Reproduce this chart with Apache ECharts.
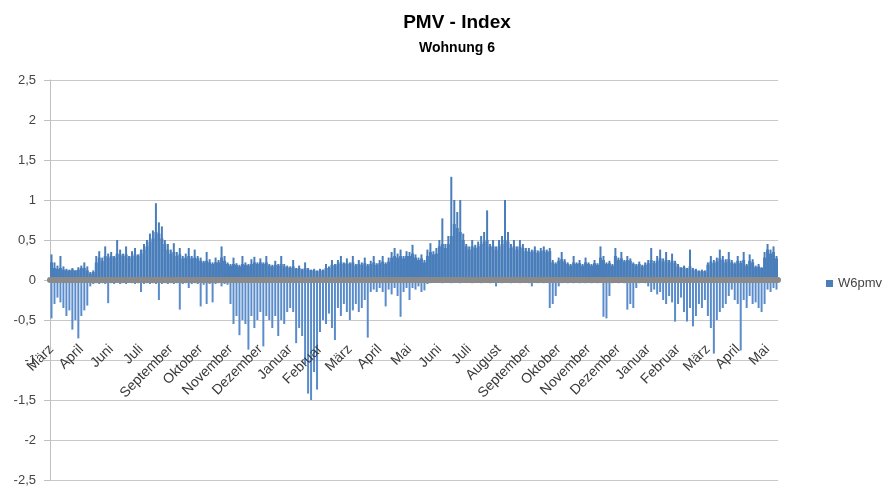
<!DOCTYPE html>
<html>
<head>
<meta charset="utf-8">
<script src="https://cdn.jsdelivr.net/npm/echarts@6/dist/echarts.min.js"></script>
<style>
html,body{margin:0;padding:0;background:#fff;}
#chart{width:892px;height:488px;}
</style>
</head>
<body>
<div id="chart"></div>
<script>
// Month tick labels (one every labelStep slots)
const months = ['März','April','Juni','Juli','September','Oktober','November','Dezember','Januar','Februar','März','April','Mai','Juni','Juli','August','September','Oktober','November','Dezember','Januar','Februar','März','April','Mai'];
const labelStep = 10;

// Dense (typical) positive PMV level per time slot
const pmvBase = [
0.22,0.15,0.14,0.15,0.13,0.12,0.12,0.13,0.12,0.13,
0.15,0.15,0.12,0.08,0.10,0.22,0.28,0.24,0.30,0.28,
0.30,0.28,0.33,0.32,0.30,0.32,0.28,0.30,0.32,0.30,
0.33,0.38,0.42,0.48,0.52,0.60,0.58,0.52,0.45,0.38,
0.33,0.35,0.30,0.32,0.27,0.28,0.30,0.27,0.28,0.27,
0.24,0.22,0.24,0.22,0.20,0.22,0.22,0.28,0.24,0.20,
0.18,0.20,0.19,0.17,0.20,0.19,0.18,0.20,0.22,0.20,
0.22,0.20,0.22,0.18,0.17,0.19,0.18,0.20,0.17,0.16,
0.15,0.17,0.14,0.15,0.13,0.15,0.13,0.12,0.12,0.11,
0.12,0.12,0.15,0.15,0.19,0.18,0.20,0.22,0.20,0.21,
0.20,0.22,0.18,0.20,0.19,0.21,0.18,0.20,0.22,0.19,
0.21,0.23,0.20,0.23,0.28,0.30,0.28,0.30,0.27,0.30,
0.30,0.33,0.28,0.25,0.27,0.22,0.30,0.35,0.32,0.33,
0.42,0.45,0.40,0.45,0.55,0.70,0.65,0.60,0.50,0.42,
0.38,0.42,0.40,0.42,0.45,0.48,0.50,0.42,0.42,0.38,
0.42,0.45,0.50,0.48,0.40,0.42,0.38,0.42,0.40,0.36,
0.36,0.35,0.37,0.34,0.36,0.37,0.35,0.36,0.22,0.20,
0.24,0.26,0.23,0.20,0.18,0.22,0.20,0.21,0.18,0.22,
0.20,0.18,0.21,0.19,0.28,0.25,0.20,0.21,0.18,0.30,
0.25,0.27,0.23,0.25,0.24,0.20,0.18,0.20,0.17,0.19,
0.21,0.25,0.21,0.24,0.27,0.23,0.25,0.22,0.24,0.21,
0.17,0.15,0.16,0.14,0.17,0.13,0.12,0.11,0.11,0.11,
0.19,0.23,0.21,0.23,0.27,0.25,0.22,0.26,0.22,0.20,
0.24,0.21,0.25,0.18,0.24,0.22,0.16,0.17,0.15,0.28,
0.38,0.33,0.35,0.27
];

// Positive PMV peaks per time slot
const pmvHigh = [
0.32,0.22,0.18,0.30,0.17,0.14,0.13,0.15,0.12,0.16,
0.18,0.22,0.17,0.10,0.12,0.30,0.36,0.28,0.42,0.33,
0.35,0.30,0.50,0.38,0.33,0.42,0.30,0.36,0.40,0.32,
0.38,0.45,0.50,0.58,0.62,0.96,0.72,0.67,0.50,0.45,
0.38,0.46,0.35,0.40,0.30,0.33,0.40,0.30,0.38,0.30,
0.28,0.24,0.35,0.26,0.22,0.28,0.25,0.42,0.30,0.22,
0.20,0.28,0.21,0.19,0.30,0.22,0.20,0.26,0.29,0.22,
0.27,0.22,0.30,0.20,0.19,0.24,0.20,0.30,0.20,0.18,
0.17,0.25,0.15,0.18,0.14,0.22,0.15,0.13,0.14,0.12,
0.14,0.13,0.20,0.17,0.25,0.20,0.25,0.30,0.22,0.27,
0.22,0.30,0.20,0.25,0.22,0.28,0.20,0.24,0.30,0.21,
0.25,0.30,0.22,0.28,0.35,0.40,0.33,0.38,0.30,0.36,
0.35,0.44,0.32,0.28,0.32,0.25,0.38,0.46,0.36,0.40,
0.50,0.77,0.45,0.55,1.29,1.00,0.85,1.00,0.58,0.45,
0.42,0.50,0.44,0.48,0.55,0.60,0.87,0.45,0.50,0.42,
0.50,0.55,1.00,0.60,0.45,0.50,0.42,0.50,0.45,0.40,
0.40,0.38,0.42,0.37,0.40,0.42,0.38,0.40,0.25,0.22,
0.28,0.35,0.26,0.22,0.20,0.30,0.22,0.25,0.20,0.28,
0.22,0.20,0.25,0.21,0.42,0.30,0.22,0.24,0.20,0.40,
0.28,0.35,0.25,0.30,0.27,0.22,0.20,0.23,0.19,0.22,
0.25,0.40,0.24,0.30,0.38,0.27,0.35,0.25,0.33,0.24,
0.20,0.16,0.18,0.15,0.38,0.15,0.14,0.12,0.13,0.12,
0.22,0.30,0.25,0.28,0.38,0.30,0.26,0.35,0.25,0.22,
0.30,0.24,0.35,0.20,0.32,0.26,0.18,0.20,0.16,0.35,
0.45,0.38,0.42,0.30
];

// Negative PMV envelope per time slot
const pmvLow = [
-0.48,-0.30,-0.22,-0.28,-0.35,-0.45,-0.38,-0.62,-0.50,-0.73,
-0.45,-0.38,-0.32,-0.08,-0.05,-0.04,-0.05,-0.04,-0.05,-0.29,
-0.04,-0.05,-0.03,-0.05,-0.04,-0.05,-0.03,-0.04,-0.05,-0.04,
-0.15,-0.05,-0.04,-0.05,-0.04,-0.05,-0.25,-0.05,-0.04,-0.05,
-0.04,-0.05,-0.04,-0.37,-0.05,-0.04,-0.10,-0.05,-0.04,-0.05,
-0.33,-0.06,-0.30,-0.05,-0.28,-0.05,-0.04,-0.08,-0.05,-0.06,
-0.30,-0.55,-0.45,-0.69,-0.50,-0.55,-0.87,-0.45,-0.60,-0.50,
-0.40,-0.83,-0.45,-0.50,-0.60,-0.45,-0.70,-0.50,-0.55,-0.40,
-0.35,-0.40,-0.79,-0.60,-0.70,-1.05,-1.42,-1.50,-1.15,-1.37,
-0.65,-0.50,-0.55,-0.42,-0.60,-0.75,-0.35,-0.45,-0.30,-0.40,
-0.50,-0.38,-0.30,-0.40,-0.35,-0.25,-0.72,-0.15,-0.12,-0.15,
-0.10,-0.15,-0.33,-0.12,-0.18,-0.10,-0.20,-0.46,-0.15,-0.10,
-0.25,-0.10,-0.12,-0.08,-0.15,-0.13,-0.05,-0.04,-0.03,-0.03,
-0.03,-0.04,-0.03,-0.03,-0.04,-0.03,-0.03,-0.04,-0.03,-0.03,
-0.03,-0.04,-0.03,-0.03,-0.04,-0.03,-0.03,-0.04,-0.03,-0.08,
-0.03,-0.04,-0.03,-0.03,-0.04,-0.03,-0.03,-0.04,-0.03,-0.03,
-0.04,-0.08,-0.03,-0.04,-0.03,-0.04,-0.03,-0.35,-0.30,-0.20,
-0.08,-0.04,-0.03,-0.04,-0.03,-0.04,-0.03,-0.04,-0.03,-0.04,
-0.03,-0.04,-0.03,-0.04,-0.03,-0.46,-0.48,-0.20,-0.04,-0.03,
-0.04,-0.03,-0.04,-0.37,-0.30,-0.35,-0.10,-0.04,-0.03,-0.04,
-0.08,-0.15,-0.12,-0.18,-0.15,-0.25,-0.30,-0.20,-0.28,-0.52,
-0.30,-0.22,-0.40,-0.52,-0.35,-0.58,-0.45,-0.30,-0.35,-0.25,
-0.45,-0.60,-0.92,-0.50,-0.40,-0.35,-0.30,-0.20,-0.12,-0.25,
-0.30,-0.88,-0.25,-0.35,-0.20,-0.30,-0.28,-0.35,-0.40,-0.30,
-0.12,-0.15,-0.10,-0.12
];

const seriesName = 'W6pmv';
const slots = pmvHigh.map((_, i) => String(i));

const chart = echarts.init(document.getElementById('chart'), null, {renderer: 'canvas'});
const txt = '#444444';
const font = 'Liberation Sans, Arial, sans-serif';
const blue = '#4a7ebb';

chart.setOption({
  animation: false,
  backgroundColor: '#ffffff',
  title: [
    {text: 'PMV - Index', left: 452, top: 8, textAlign: 'center',
     textStyle: {fontFamily: font, fontSize: 19, fontWeight: 'bold', color: '#000'}},
    {text: 'Wohnung 6', left: 452, top: 36, textAlign: 'center',
     textStyle: {fontFamily: font, fontSize: 14, fontWeight: 'bold', color: '#000'}}
  ],
  legend: {
    data: [seriesName],
    left: 821, top: 272,
    icon: 'rect', itemWidth: 7, itemHeight: 7, itemGap: 5,
    textStyle: {fontFamily: font, fontSize: 13, color: txt}
  },
  grid: {left: 50, right: 114, top: 80, bottom: 8, containLabel: false, outerBoundsMode: 'none'},
  xAxis: [
    {
      type: 'category', data: slots, z: 10,
      axisLine: {onZero: true, lineStyle: {color: '#8a8a8a', width: 6}},
      axisTick: {show: false},
      axisLabel: {
        interval: 0, rotate: 45, margin: -133,
        fontFamily: font, fontSize: 14, color: '#3a3a3a',
        formatter: (v, idx) => (idx % labelStep === 0 ? months[idx / labelStep] : '')
      },
      splitLine: {show: false}
    },
    {type: 'category', data: slots, show: false}
  ],
  yAxis: {
    type: 'value', min: -2.5, max: 2.5, interval: 0.5,
    axisLine: {show: true, lineStyle: {color: '#c0c0c0', width: 1}},
    axisTick: {show: true, length: 6, lineStyle: {color: '#c0c0c0'}},
    splitLine: {show: true, lineStyle: {color: '#c8c8c8', width: 1}},
    axisLabel: {
      margin: 14, fontFamily: font, fontSize: 13, color: txt,
      formatter: v => String(v).replace('.', ',')
    }
  },
  series: [
    {
      name: 'W6pmv-peak', type: 'bar', xAxisIndex: 1, data: pmvHigh,
      barWidth: 2, z: 2,
      itemStyle: {color: blue}
    },
    {
      name: seriesName, type: 'bar', xAxisIndex: 0, data: pmvBase,
      barCategoryGap: '0%', barGap: '0%', z: 3,
      itemStyle: {color: blue}
    },
    {
      name: 'W6pmv-neg', type: 'bar', xAxisIndex: 1, data: pmvLow,
      barWidth: 2, barGap: '-100%', z: 2,
      itemStyle: {color: '#5a8ccc'}
    }
  ]
});
</script>
</body>
</html>
